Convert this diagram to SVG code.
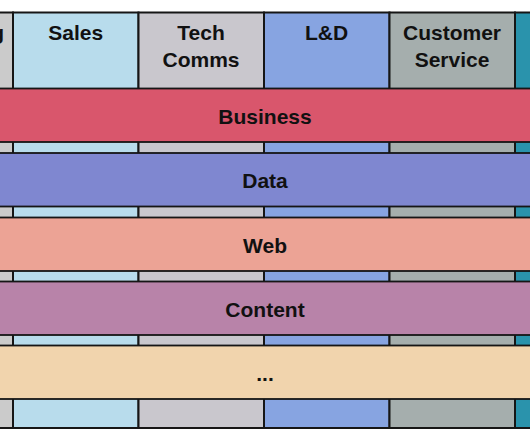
<svg xmlns="http://www.w3.org/2000/svg" width="530" height="442" viewBox="0 0 530 442">
<style>
.col{stroke:#161616;stroke-width:2}
.band{stroke:#161616;stroke-width:1.8}
.t{font-family:"Liberation Sans",Arial,sans-serif;font-weight:bold;font-size:21px;fill:#111;text-anchor:middle}
</style>
<rect width="530" height="442" fill="#ffffff"/>
<g id="columns">
<g id="col-marketing"><rect class="col" x="-20" y="12.5" width="33" height="415.5" fill="#cbcbcb"/><text class="t" x="4" y="40" style="text-anchor:end">Marketing</text></g>
<g id="col-sales"><rect class="col" x="13" y="12.5" width="125.5" height="415.5" fill="#b8dcec"/><text class="t" x="75.7" y="40">Sales</text></g>
<g id="col-techcomms"><rect class="col" x="138.5" y="12.5" width="125.5" height="415.5" fill="#c9c7cd"/><text class="t" x="201" y="40">Tech</text><text class="t" x="201" y="67">Comms</text></g>
<g id="col-ld"><rect class="col" x="264" y="12.5" width="125.5" height="415.5" fill="#87a4e1"/><text class="t" x="326.5" y="40">L&amp;D</text></g>
<g id="col-customer"><rect class="col" x="389.5" y="12.5" width="125.5" height="415.5" fill="#a5aead"/><text class="t" x="452" y="40">Customer</text><text class="t" x="452" y="67">Service</text></g>
<g id="col-next"><rect class="col" x="515" y="12.5" width="30" height="415.5" fill="#2a93ac"/></g>
</g>
<g id="bands">
<g id="band-business"><rect class="band" x="-5" y="88.5" width="540" height="53.5" fill="#d9566c"/><text class="t" x="265" y="123.5">Business</text></g>
<g id="band-data"><rect class="band" x="-5" y="153" width="540" height="53.5" fill="#7f87d0"/><text class="t" x="265" y="188">Data</text></g>
<g id="band-web"><rect class="band" x="-5" y="217.5" width="540" height="53.5" fill="#eca395"/><text class="t" x="265" y="252.5">Web</text></g>
<g id="band-content"><rect class="band" x="-5" y="281.5" width="540" height="53.5" fill="#b883a9"/><text class="t" x="265" y="316.5">Content</text></g>
<g id="band-more"><rect class="band" x="-5" y="345.5" width="540" height="53.5" fill="#f1d4ad"/><text class="t" x="265" y="381">...</text></g>
</g>
<g id="connectors"></g>
</svg>
